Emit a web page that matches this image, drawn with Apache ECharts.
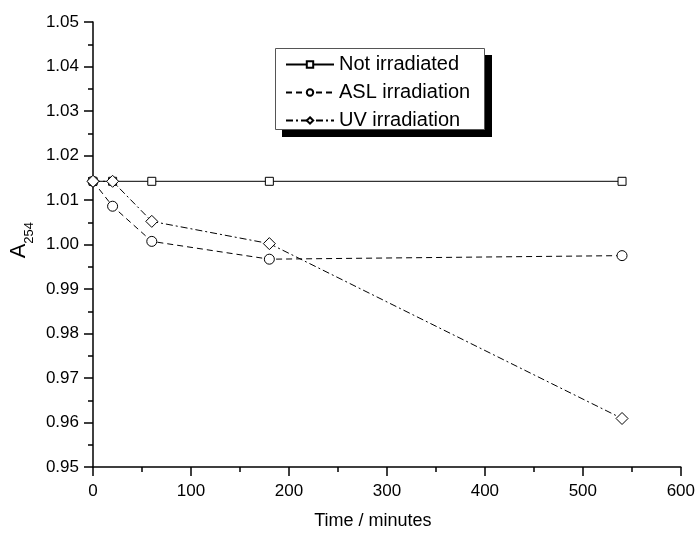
<!DOCTYPE html>
<html><head><meta charset="utf-8">
<script src="https://cdn.jsdelivr.net/npm/echarts@6/dist/echarts.min.js"></script>
<style>html,body{margin:0;padding:0;background:#fff}#c{width:698px;height:535px}</style>
</head><body><div id="c"></div>
<script>
const times = [0, 20, 60, 180, 540];
const notIrradiated = [1.0142, 1.0142, 1.0142, 1.0142, 1.0142];
const aslIrradiation = [1.0142, 1.0086, 1.0007, 0.9967, 0.9975];
const uvIrradiation = [1.0142, 1.0142, 1.0052, 1.0002, 0.9609];
const seriesNames = ['Not irradiated', 'ASL irradiation', 'UV irradiation'];
const xTitle = 'Time / minutes';

const font = 'Arial, "Liberation Sans", sans-serif';
const chart = echarts.init(document.getElementById('c'), null, {renderer: 'canvas'});
function pts(ys){ return times.map((t,i)=>[t, ys[i]]); }
function mk(name, ys, symbol, size, dash){
  return {
    name, type: 'line', data: pts(ys), symbol, symbolSize: size,
    showSymbol: true, clip: false, animation: false,
    lineStyle: {color: '#000', width: 1, type: dash},
    itemStyle: {color: '#fff', borderColor: '#000', borderWidth: 1}
  };
}
chart.setOption({
  animation: false,
  backgroundColor: '#fff',
  grid: {left: 93, right: 17, top: 22, bottom: 65},
  xAxis: {
    type: 'value', min: 0, max: 600, interval: 100,
    axisLine: {show: true, onZero: false, lineStyle: {color: '#000', width: 1.5}},
    axisTick: {show: true, inside: false, length: 9, lineStyle: {color: '#000', width: 1.5}},
    minorTick: {show: true, splitNumber: 2, length: 5, lineStyle: {color: '#000', width: 1.5}},
    splitLine: {show: false},
    axisLabel: {color: '#000', fontSize: 17, fontFamily: font, margin: 16},
    name: xTitle, nameLocation: 'middle', nameGap: 45,
    nameTextStyle: {color: '#000', fontSize: 18, fontFamily: font, padding: [0, 28, 0, 0]}
  },
  yAxis: {
    type: 'value', min: 0.95, max: 1.05, interval: 0.01,
    axisLine: {show: true, onZero: false, lineStyle: {color: '#000', width: 1.5}},
    axisTick: {show: true, inside: false, length: 9, lineStyle: {color: '#000', width: 1.5}},
    minorTick: {show: true, splitNumber: 2, length: 5, lineStyle: {color: '#000', width: 1.5}},
    splitLine: {show: false},
    axisLabel: {color: '#000', fontSize: 17, fontFamily: font, margin: 14,
      formatter: v => v.toFixed(2)}
  },
  graphic: [
    {type: 'rect', left: 282, top: 55, shape: {width: 210, height: 82}, style: {fill: '#000'}, z: 1},
    {type: 'rect', left: 275, top: 48, shape: {width: 209, height: 81}, style: {fill: '#fff', stroke: '#555', lineWidth: 1}, z: 2},
    {type: 'text', left: 8, top: 222, rotation: Math.PI/2,
      style: {text: '{a|A}{s|254}', fill: '#000',
        rich: {a: {fontSize: 22, fontFamily: font, lineHeight: 28, verticalAlign: 'top'},
               s: {fontSize: 13, fontFamily: font, lineHeight: 28, verticalAlign: 'bottom'}}}, z: 5}
  ],
  legend: {
    data: seriesNames, orient: 'vertical', left: 280, top: 49,
    itemWidth: 48, itemHeight: 8, itemGap: 7, z: 10,
    textStyle: {color: '#000', fontSize: 20, fontFamily: font, lineHeight: 21},
    selectedMode: false
  },
  series: [
    mk(seriesNames[0], notIrradiated, 'rect', 8, 'solid'),
    mk(seriesNames[1], aslIrradiation, 'circle', 10, [6, 4]),
    mk(seriesNames[2], uvIrradiation, 'diamond', [12, 12], [7, 3, 2, 3])
  ]
});
</script></body></html>
